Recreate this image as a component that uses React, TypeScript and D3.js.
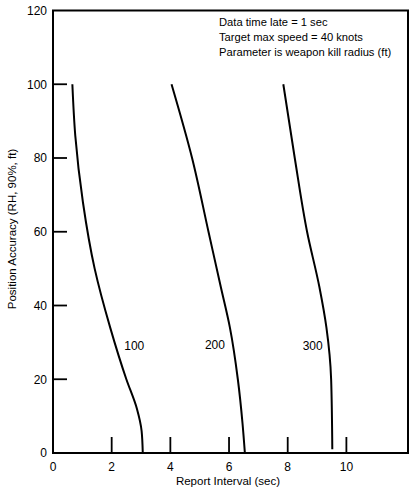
import React from "react";
import * as d3 from "d3";

const xTicks = [0, 2, 4, 6, 8, 10];
const yTicks = [0, 20, 40, 60, 80, 100, 120];

const curveNames = ["100", "200", "300"];
const curveY100 = [100, 86, 68, 50, 34, 20, 12, 6, 0];
const curveX100 = [0.66, 0.76, 1.02, 1.42, 1.95, 2.5, 2.86, 3.02, 3.06];
const curveY200 = [100, 80, 60, 45, 34, 20, 8, 0];
const curveX200 = [4.04, 4.74, 5.3, 5.72, 6.03, 6.3, 6.46, 6.54];
const curveY300 = [100, 80, 60, 45, 34, 20, 1];
const curveX300 = [7.85, 8.24, 8.66, 9.08, 9.32, 9.48, 9.52];
const labelX = [2.77, 5.52, 8.85];
const labelY = [29, 29.3, 29];

const notes = [
  "Data time late = 1 sec",
  "Target max speed = 40 knots",
  "Parameter is weapon kill radius (ft)",
];

export default function App() {
  const W = 410;
  const H = 489;
  const x = d3.scaleLinear().domain([0, 12.1]).range([53, 408]);
  const y = d3.scaleLinear().domain([0, 120]).range([453, 10.5]);
  const font = "'Liberation Sans', Arial, Helvetica, sans-serif";

  const series = [
    { xs: curveX100, ys: curveY100 },
    { xs: curveX200, ys: curveY200 },
    { xs: curveX300, ys: curveY300 },
  ];
  const line = d3
    .line<[number, number]>()
    .x((d) => x(d[0]))
    .y((d) => y(d[1]))
    .curve(d3.curveMonotoneY);

  return (
    <svg
      width={W}
      height={H}
      style={{ position: "absolute", left: 0, top: 0, background: "#fff" }}
      fontFamily={font}
    >
      <rect
        x={x(0)}
        y={y(120)}
        width={x(12.1) - x(0)}
        height={y(0) - y(120)}
        fill="none"
        stroke="#000"
        strokeWidth={2}
      />
      {yTicks.map((t) => (
        <g key={"y" + t}>
          {t > 0 && t < 120 && (
            <line x1={x(0)} x2={x(0) + 14} y1={y(t)} y2={y(t)} stroke="#000" strokeWidth={1.8} />
          )}
          <text x={47} y={y(t)} dy="0.36em" textAnchor="end" fontSize={12}>
            {t}
          </text>
        </g>
      ))}
      {xTicks.map((t) => (
        <g key={"x" + t}>
          {t > 0 && (
            <line x1={x(t)} x2={x(t)} y1={y(0)} y2={y(0) - 16} stroke="#000" strokeWidth={1.8} />
          )}
          <text x={x(t)} y={471} textAnchor="middle" fontSize={12}>
            {t}
          </text>
        </g>
      ))}
      {series.map((s, i) => (
        <path
          key={"c" + i}
          d={line(s.xs.map((v, j) => [v, s.ys[j]] as [number, number])) || ""}
          fill="none"
          stroke="#000"
          strokeWidth={2}
        />
      ))}
      {curveNames.map((n, i) => (
        <text key={"l" + n} x={x(labelX[i])} y={y(labelY[i])} dy="0.36em" textAnchor="middle" fontSize={12}>
          {n}
        </text>
      ))}
      {notes.map((n, i) => (
        <text key={"n" + i} x={219} y={26 + i * 15} fontSize={11.2}>
          {n}
        </text>
      ))}
      <text x={228} y={485} textAnchor="middle" fontSize={11.5}>
        Report Interval (sec)
      </text>
      <text
        transform={`translate(16, 229) rotate(-90)`}
        textAnchor="middle"
        fontSize={11.5}
      >
        Position Accuracy (RH, 90%, ft)
      </text>
    </svg>
  );
}
